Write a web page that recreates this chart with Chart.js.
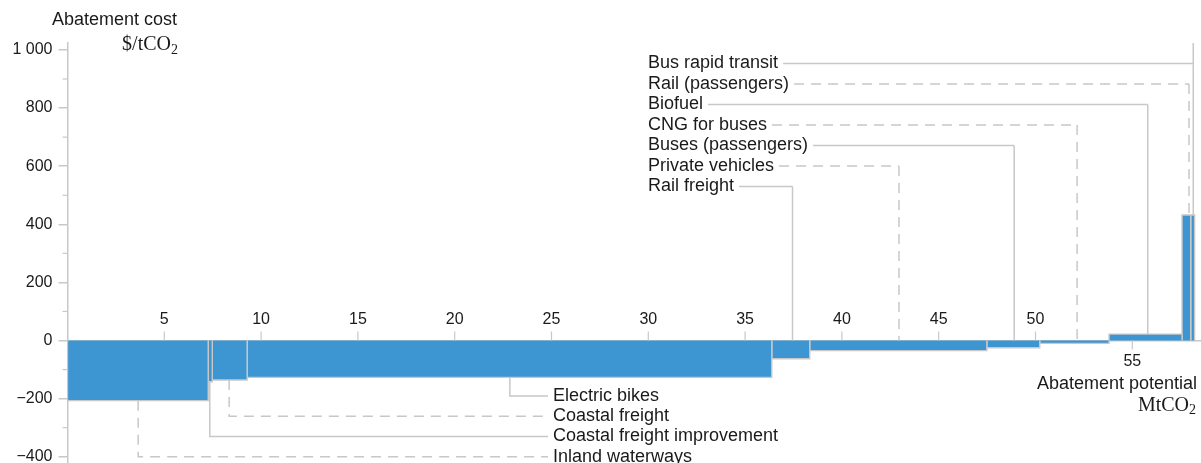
<!DOCTYPE html>
<html>
<head>
<meta charset="utf-8">
<script src="https://cdn.jsdelivr.net/npm/chart.js@4.4.1/dist/chart.umd.min.js"></script>
<style>
  html, body { margin: 0; padding: 0; background: #fff; }
  #wrap { position: relative; width: 1201px; height: 463px; }
</style>
</head>
<body>
<div id="wrap"><canvas id="macc"></canvas></div>
<script>
// marginal abatement cost curve, transport measures
const measures = [
  "Inland waterways",
  "Coastal freight improvement",
  "Coastal freight",
  "Electric bikes",
  "Rail freight",
  "Private vehicles",
  "Buses (passengers)",
  "CNG for buses",
  "Biofuel",
  "Rail (passengers)",
  "Bus rapid transit",
];
// bar width = abatement potential (MtCO2)
const potential = [7.27, 0.21, 1.8, 27.1, 1.96, 9.15, 2.73, 3.58, 3.77, 0.45, 0.2];
// bar height = abatement cost ($/tCO2)
const cost = [-207, -142, -136, -127, -63, -35, -25, -10, 22, 432, 432];
// where the leader line meets each bar (MtCO2)
const leaderAt = [3.65, 7.35, 8.35, 22.85, 37.45, 42.95, 48.9, 52.15, 55.8, 57.93, 58.15];
const leaderDashed = [true, false, true, false, false, true, false, true, false, true, false];
const labelSide = ["below", "below", "below", "below", "above", "above", "above", "above", "above", "above", "above"];

const xTicks = [5, 10, 15, 20, 25, 30, 35, 40, 45, 50, 55];
const yTicks = [-400, -200, 0, 200, 400, 600, 800, 1000];
const yTickLabels = ["\u2212400", "\u2212200", "0", "200", "400", "600", "800", "1 000"];

const BAR_COLOR = "#3d96d2";
const LINE_GRAY = "#c8c8c8";
const TEXT = "#1a1a1a";
const SANS = "'Liberation Sans', Arial, sans-serif";
const SERIF = "'Liberation Serif', 'DejaVu Serif', serif";

// bars start where the previous one ends
const starts = [];
let acc = 0;
potential.forEach(w => { starts.push(acc); acc += w; });

const datasets = measures.map((name, i) => {
  const s = starts[i], e = starts[i] + potential[i], v = cost[i];
  return {
    label: name,
    data: [{ x: s, y: 0 }, { x: s, y: v }, { x: e, y: v }, { x: e, y: 0 }],
    fill: "origin",
    backgroundColor: BAR_COLOR,
    borderColor: LINE_GRAY,
    borderWidth: 1.4,
    pointRadius: 0,
    tension: 0,
  };
});

function drawSubscripted(ctx, main, sub, xRight, y, size) {
  ctx.font = `${size}px ${SERIF}`;
  const wMain = ctx.measureText(main).width;
  ctx.font = `${size * 0.7}px ${SERIF}`;
  const wSub = ctx.measureText(sub).width;
  const x0 = xRight - wMain - wSub;
  ctx.textAlign = "left";
  ctx.textBaseline = "middle";
  ctx.font = `${size}px ${SERIF}`;
  ctx.fillText(main, x0, y);
  ctx.font = `${size * 0.7}px ${SERIF}`;
  ctx.fillText(sub, x0 + wMain, y + size * 0.25);
}

const annotate = {
  id: "annotate",
  afterDraw(chart) {
    const { ctx, chartArea } = chart;
    const xs = chart.scales.x, ys = chart.scales.y;
    const y0 = ys.getPixelForValue(0);
    ctx.save();
    ctx.fillStyle = TEXT;
    ctx.strokeStyle = LINE_GRAY;

    // minor y ticks
    ctx.lineWidth = 1.2;
    for (let k = 0; k < yTicks.length - 1; k++) {
      const py = ys.getPixelForValue((yTicks[k] + yTicks[k + 1]) / 2);
      ctx.beginPath();
      ctx.moveTo(chartArea.left - 5, py);
      ctx.lineTo(chartArea.left, py);
      ctx.stroke();
    }

    // x ticks sit on the zero line, labels away from the bar
    ctx.font = `16px ${SANS}`;
    ctx.textAlign = "center";
    ctx.textBaseline = "middle";
    xTicks.forEach(t => {
      const px = xs.getPixelForValue(t);
      let idx = starts.findIndex((s, i) => t >= s && t < s + potential[i]);
      const down = idx >= 0 && cost[idx] > 0;
      const dir = down ? 1 : -1;
      ctx.beginPath();
      ctx.moveTo(px, y0);
      ctx.lineTo(px, y0 + dir * 9);
      ctx.stroke();
      ctx.fillText(String(t), px, y0 + dir * 21);
    });

    // axis titles
    ctx.font = `18px ${SANS}`;
    ctx.textAlign = "left";
    ctx.fillText("Abatement cost", 52, 20);
    drawSubscripted(ctx, "$/tCO", "2", 178, 45, 20);
    ctx.font = `18px ${SANS}`;
    ctx.textAlign = "right";
    ctx.fillText("Abatement potential", chartArea.right - 4, y0 + 44);
    drawSubscripted(ctx, "MtCO", "2", chartArea.right - 5, y0 + 65, 20);

    // leader lines and measure labels
    ctx.font = `18px ${SANS}`;
    ctx.textBaseline = "middle";
    ctx.lineWidth = 1.5;
    let below = 0, above = 0;
    measures.forEach((name, i) => {
      const lx = xs.getPixelForValue(leaderAt[i]);
      ctx.setLineDash(leaderDashed[i] ? [10, 7] : []);
      ctx.beginPath();
      if (labelSide[i] === "below") {
        const rowY = ys.getPixelForValue(-400) - below * 20.2;
        const textX = 553;
        ctx.moveTo(lx, ys.getPixelForValue(cost[i]));
        ctx.lineTo(lx, rowY);
        ctx.lineTo(textX - 5, rowY);
        ctx.stroke();
        ctx.textAlign = "left";
        ctx.fillText(name, textX, rowY);
        below++;
      } else {
        const rowY = 186.5 - above * 20.5;
        const textX = 648;
        const w = ctx.measureText(name).width;
        const top = i === measures.length - 1 ? chartArea.top : rowY;
        ctx.moveTo(textX + w + 5, rowY);
        ctx.lineTo(lx, rowY);
        ctx.moveTo(lx, top);
        ctx.lineTo(lx, ys.getPixelForValue(Math.max(cost[i], 0)));
        ctx.stroke();
        ctx.textAlign = "left";
        ctx.fillText(name, textX, rowY);
        above++;
      }
    });
    ctx.restore();
  },
};

const chart = new Chart(document.getElementById("macc"), {
  type: "line",
  data: { datasets },
  options: {
    responsive: true,
    maintainAspectRatio: false,
    animation: false,
    layout: { padding: { top: 43, right: 0, bottom: 0, left: 0 } },
    plugins: {
      legend: { display: false },
      tooltip: { enabled: false },
    },
    scales: {
      x: {
        type: "linear",
        display: false,
        min: 0,
        max: 58.55,
      },
      y: {
        type: "linear",
        min: -421.7,
        max: 1024,
        afterBuildTicks: scale => {
          scale.ticks = yTicks.map(v => ({ value: v }));
        },
        afterFit: scale => {
          scale.width = 67.5;
          scale.paddingTop = 0;
          scale.paddingBottom = 0;
        },
        border: { display: true, color: LINE_GRAY, width: 1.5 },
        grid: {
          drawOnChartArea: true,
          color: c => (c.tick && c.tick.value === 0 ? LINE_GRAY : "rgba(0,0,0,0)"),
          lineWidth: 1.5,
          tickColor: LINE_GRAY,
          tickLength: 9,
        },
        ticks: {
          padding: 6,
          color: TEXT,
          font: { family: "'Liberation Sans', Arial, sans-serif", size: 16 },
          callback: (v) => {
            const k = yTicks.indexOf(v);
            return k >= 0 ? yTickLabels[k] : "";
          },
        },
      },
    },
  },
  plugins: [annotate],
});
</script>
</body>
</html>
